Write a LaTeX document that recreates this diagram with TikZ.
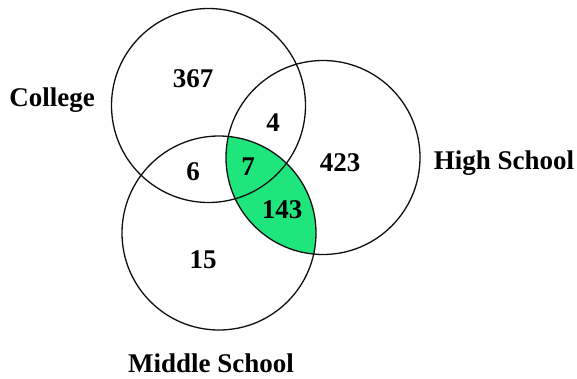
\documentclass[tikz,border=0pt]{standalone}
\usepackage{fontspec}
\setmainfont{Liberation Serif}
\usetikzlibrary{positioning}
\definecolor{vennGreen}{HTML}{1EE67D}
\definecolor{vennLine}{HTML}{101010}
\tikzset{
  setCircle/.style={circle, draw=vennLine, line width=1.3pt, minimum size=194pt,
                    inner sep=0pt},
  countLbl/.style={font=\fontsize{27}{30}\selectfont\bfseries, inner sep=0pt},
  setLbl/.style={font=\fontsize{27}{30}\selectfont\bfseries, inner sep=0pt},
}
\begin{document}
\begin{tikzpicture}[x=1pt, y=-1pt]
    \useasboundingbox (0,0) rectangle (577,378);
    % shaded part: High School and Middle School
    \begin{scope}
      \clip (323,157.5) circle (97);
      \fill[vennGreen] (219,233) circle (97);
    \end{scope}
    \node[setCircle] (college) at (208.5,105.5) {};
    \node[setCircle] (high)    at (323,157.5) {};
    \node[setCircle] (middle)  at (219,233) {};
    % counts
    \node[countLbl] (nC)   at (193,79)  {367};
    \node[countLbl] (nCH)  at (273,123) {4};
    \node[countLbl] (nCM)  at (193,172) {6};
    \node[countLbl] (nCHM) at (248,167) {7};
    \node[countLbl] (nHM)  at (282,210) {143};
    \node[countLbl] (nH)   at (340,163) {423};
    \node[countLbl] (nM)   at (203,260) {15};
    % set names
    \node[setLbl] (lCollege) at (52,100)  {College};
    \node[setLbl] (lHigh)    at (504,163) {High School};
    \node[setLbl] (lMiddle)  at (211,363) {Middle School};
  \end{tikzpicture}
\end{document}
